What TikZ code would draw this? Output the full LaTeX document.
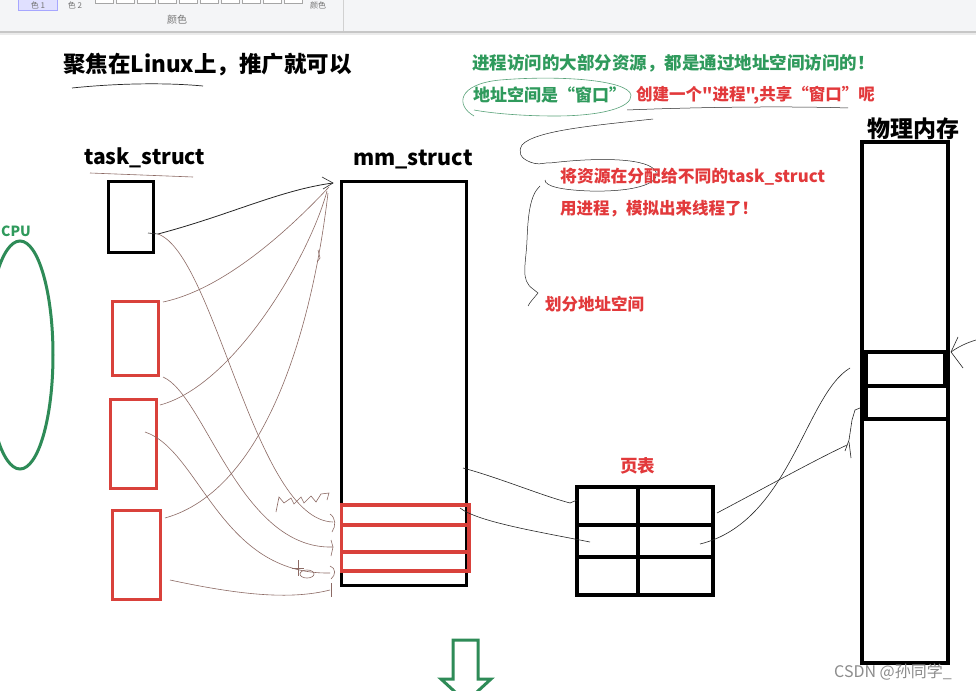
\documentclass[tikz,border=0pt]{standalone}
\usepackage{fontspec}
\newfontfamily\cjk{Noto Sans CJK SC}
\definecolor{gtext}{HTML}{2F9A5C}
\definecolor{gline}{HTML}{2E8B57}
\definecolor{rtext}{HTML}{E2393B}
\definecolor{rboxc}{HTML}{D9413B}
\definecolor{thinc}{HTML}{8C6A64}
\definecolor{barc}{HTML}{F4F5F7}
\begin{document}
\begin{tikzpicture}[x=1pt,y=-1pt,
  kbox/.style={draw=black,line width=3.5pt,inner sep=0pt,fill=none},
  rbx/.style={draw=rboxc,line width=3.5pt,inner sep=0pt,fill=none},
  txt/.style={anchor=west,inner sep=0pt,font=\cjk\bfseries},
  sk/.style={draw=thinc,line width=0.6pt},
  ink/.style={draw=black!85,line width=0.7pt},
  gsk/.style={draw=gline!80,line width=0.6pt},
  tb/.style={anchor=center,inner sep=0pt,font=\cjk\fontsize{8}{9}\selectfont,text=black!55}]
\useasboundingbox (0,0) rectangle (976,690);
\fill[white] (0,0) rectangle (976,690);
% toolbar
\fill[barc] (0,0) rectangle (976,31);
\fill[black!22] (0,31) rectangle (976,33.5);
\fill[black!8] (0,33.5) rectangle (976,35);
\draw[black!18] (343,0) -- (343,31);
\filldraw[fill=blue!12,draw=blue!35] (18,-6) rectangle (57,10);
\node[tb] (tb1) at (38,5) {色 1};
\node[tb] (tb2) at (75,5) {色 2};
\foreach \k in {0,...,9}{\draw[black!35,fill=white] (95+21*\k,-8) rectangle (113+21*\k,3);}
\node[tb] (tb3) at (318,5) {颜色};
\node[tb,font=\cjk\fontsize{10}{12}\selectfont] (tb4) at (177,20) {颜色};
% title
\node[txt] (title) at (63,65) {\fontsize{22.5}{26}\selectfont 聚焦在Linux上，推广就可以};
\draw[ink] (72,88) .. controls (110,84) and (160,82) .. (203,86);
% green texts
\node[txt,text=gtext] (g1) at (472,63) {\fontsize{17.5}{20}\selectfont 进程访问的大部分资源，都是通过地址空间访问的！};
\node[txt,text=gtext] (g2) at (473,95) {\fontsize{17}{20}\selectfont 地址空间是“窗口”};
\draw[gsk] (474,116) .. controls (455,105) and (458,84) .. (500,80)
  .. controls (560,75) and (628,80) .. (631,95) .. controls (632,108) and (600,116) .. (555,116)
  .. controls (520,116) and (490,113) .. (474,110);
\node[txt,text=rtext] (r1) at (636,95) {\fontsize{16.5}{20}\selectfont 创建一个"进程",共享“窗口”呢};
\draw[ink,line width=0.5pt] (627,110) .. controls (700,107) and (790,106) .. (848,108);
% brace
\draw[ink,line width=0.5pt] (653,119) .. controls (600,125) and (535,130) .. (522,145)
  .. controls (518,152) and (520,158) .. (530,162) .. controls (540,166) and (545,162) .. (550,163)
  .. controls (600,157) and (650,158) .. (656,172) .. controls (660,185) and (630,192) .. (590,191)
  .. controls (560,190) and (545,186) .. (545,180);
\draw[ink,line width=0.5pt] (540,186) .. controls (530,195) and (528,215) .. (527,240)
  .. controls (526,265) and (520,280) .. (533,289) -- (538,293) .. controls (534,298) and (530,302) .. (528,306);
\node[txt,text=rtext] (r2) at (560,177) {\fontsize{16.8}{20}\selectfont 将资源在分配给不同的task\_struct};
\node[txt,text=rtext] (r3) at (560,209) {\fontsize{16.5}{20}\selectfont 用进程，模拟出来线程了！};
\node[txt,text=rtext] (r4) at (545,304) {\fontsize{16.5}{20}\selectfont 划分地址空间};
% labels
\node[txt] (tsl) at (84,158) {\fontsize{21}{24}\selectfont task\_struct};
\draw[sk] (90,173) -- (193,177);
\node[txt] (mml) at (353,160) {\fontsize{21.5}{24}\selectfont mm\_struct};
\node[txt] (pml) at (867,129) {\fontsize{23}{26}\selectfont 物理内存};
\node[txt,text=rtext] (ptl) at (620,466) {\fontsize{17.5}{20}\selectfont 页表};
% CPU
\node[txt,text=gtext] (cpul) at (1,231) {\fontsize{14}{17}\selectfont CPU};
\draw[gline,line width=3pt] (20,355) ellipse [x radius=33, y radius=114];
% task_struct boxes
\node[kbox,minimum width=45,minimum height=71] (ts0) at (131,217) {};
\node[rbx,minimum width=46,minimum height=74] (ts1) at (135.5,338.5) {};
\node[rbx,minimum width=46,minimum height=89] (ts2) at (133.5,444) {};
\node[rbx,minimum width=48,minimum height=89] (ts3) at (136.5,555) {};
% mm_struct
\node[kbox,minimum width=125,minimum height=404] (mm) at (404,383.5) {};
\draw[rboxc,line width=3.5pt] (341.5,505) rectangle (469,525);
\draw[rboxc,line width=3.5pt] (341.5,525) rectangle (469,552);
\draw[rboxc,line width=3.5pt] (341.5,552) rectangle (469,571);
% page table
\node[kbox,minimum width=136,minimum height=108] (pt) at (645,541) {};
\draw[line width=3.5pt] (638,487) -- (638,595);
\draw[line width=3.5pt] (577,525) -- (713,525);
\draw[line width=3.5pt] (577,557) -- (713,557);
% physical memory
\node[kbox,minimum width=86,minimum height=521] (pm) at (905,402.5) {};
\draw[line width=3.5pt] (862,352) -- (948,352);
\draw[line width=3.5pt] (862,386) -- (948,386);
\draw[line width=3.5pt] (862,419) -- (948,419);
\fill (860,352) rectangle (868,419);
\fill (943,352) rectangle (950,386);
% connectors task_struct -> mm_struct
\coordinate (a0) at (158,234);
\coordinate (mt) at (333,183);
\coordinate (a1) at (163,302);
\coordinate (a2) at (160,405);
\coordinate (a3) at (165,518);
\coordinate (b0) at (333,522);
\coordinate (b1) at (163,377);
\coordinate (e1) at (333,547);
\coordinate (b2) at (145,432);
\coordinate (e2) at (330,573);
\coordinate (b3) at (170,580);
\coordinate (e3) at (330,590);
\draw[ink,line width=0.8pt] (a0) .. controls (230,215) and (280,190) .. (mt);
\draw[ink,line width=0.6pt] (322,177) -- (mt) -- (323,189);
\draw[ink,line width=0.6pt] (148,233) -- (a0);
\draw[sk] (a1) .. controls (230,288) and (300,218) .. (329,187);
\draw[sk] (a2) .. controls (235,385) and (310,255) .. (327,191);
\draw[sk] (a3) .. controls (265,490) and (312,330) .. (328,193);
\draw[sk] (318,250) -- (320,258) -- (317,262);
\draw[sk] (a0) .. controls (215,255) and (255,520) .. (b0);
\draw[sk] (330,514) .. controls (336,518) and (336,526) .. (332,532);
\draw[sk] (b1) .. controls (205,395) and (240,550) .. (e1);
\draw[sk] (331,540) -- (333,547) -- (331,556);
\draw[sk] (b2) .. controls (200,450) and (220,575) .. (e2);
\draw[sk] (330,566) .. controls (336,568) and (336,575) .. (331,579);
\draw[sk] (b3) .. controls (240,595) and (290,600) .. (e3);
\draw[sk] (331,583) -- (331,597);
\draw[sk] (276,512) -- (279,497) -- (284,503) -- (291,498) -- (294,504) -- (301,497) -- (304,503) -- (311,496) -- (316,502) -- (321,494) -- (329,493) -- (327,500);
\draw[sk] (298,560) -- (298,576);
\draw[sk] (292,568) -- (304,568);
\draw[sk] (307,574) ellipse [x radius=7, y radius=4];
% mm -> page table
\coordinate (m1) at (463,468);
\coordinate (q1) at (570,503);
\coordinate (m2) at (460,508);
\coordinate (q2) at (590,542);
\draw[ink,line width=0.6pt] (m1) .. controls (500,478) and (540,495) .. (q1);
\draw[ink,line width=0.6pt] (q1) -- (577,500);
\draw[ink,line width=0.6pt] (m2) .. controls (478,522) and (540,532) .. (q2);
% page table -> physical memory
\coordinate (p1) at (717,513);
\coordinate (x1) at (847,445);
\coordinate (p2) at (700,544);
\coordinate (x2) at (850,368);
\draw[ink,line width=0.6pt] (p1) .. controls (770,485) and (815,460) .. (x1);
\draw[ink,line width=0.6pt] (845,451) -- (849,440) -- (852,420) -- (855,410) -- (860,408);
\draw[ink,line width=0.6pt] (849,442) -- (851,458);
\draw[ink,line width=0.6pt] (p2) .. controls (790,522) and (805,395) .. (x2);
% right arrow into memory
\coordinate (rr) at (976,340);
\coordinate (rm) at (951,352);
\draw[ink,line width=0.6pt] (rr) .. controls (966,343) and (958,347) .. (rm);
\draw[ink,line width=0.6pt] (958,337) -- (rm) -- (963,368);
% green down arrow
\draw[gline,line width=3pt,line join=miter] (453,640) -- (478,640) -- (478,679) -- (491,679) -- (466,702) -- (441,679) -- (453,679) -- cycle;
% watermark
\node[anchor=west,inner sep=0pt,font=\cjk\fontsize{16}{18}\selectfont,text=black!45] (wm) at (834,672) {CSDN @孙同学\_};
\end{tikzpicture}
\end{document}
